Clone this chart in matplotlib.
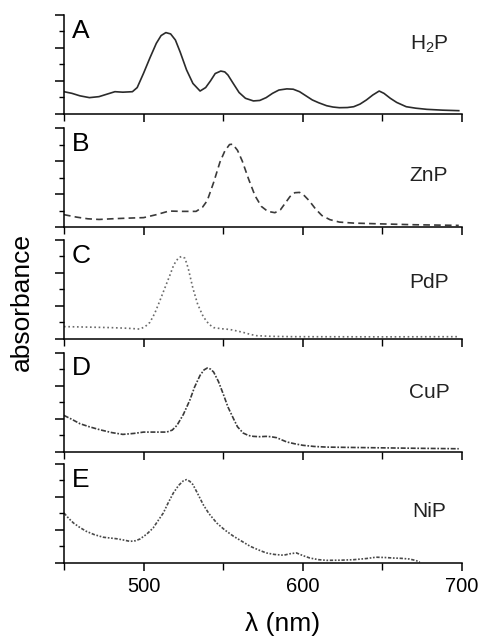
import numpy as np
import matplotlib
matplotlib.use('Agg')
import matplotlib.pyplot as plt

# Absorption spectra (wavelength in nm, absorbance in arbitrary units)
wl_h2p = [450, 455, 460, 466, 472, 477, 482, 487, 493, 496, 500, 504, 508, 511, 514, 517, 520, 523,
          527, 531, 535.5, 539, 542, 545, 548.5, 551, 553, 556, 560, 564, 569, 573, 577, 581, 585,
          590, 594, 598, 602, 606, 610, 615, 619, 623, 628, 632, 636, 640, 644, 648, 651, 655, 659,
          665, 671, 678, 688, 698]
ab_h2p = [1.35, 1.25, 1.1, 0.99, 1.05, 1.2, 1.35, 1.32, 1.35, 1.6, 2.47, 3.4, 4.28, 4.75, 4.93, 4.85,
          4.48, 3.75, 2.67, 1.85, 1.39, 1.6, 2.0, 2.45, 2.6, 2.55, 2.36, 1.9, 1.3, 0.95, 0.79, 0.82,
          0.99, 1.25, 1.45, 1.52, 1.5, 1.35, 1.1, 0.85, 0.68, 0.5, 0.42, 0.38, 0.39, 0.44, 0.6, 0.85,
          1.15, 1.39, 1.25, 0.95, 0.7, 0.44, 0.35, 0.28, 0.23, 0.2]

wl_znp = [450, 458, 465, 472, 480, 490, 500, 508, 516, 524, 533, 537, 540, 544, 548, 551, 554, 556,
          559, 562, 566, 570, 574, 578, 582.5, 586, 589, 592, 595, 598, 601, 604, 608, 612, 617, 623,
          632, 646, 670, 698]
ab_znp = [0.75, 0.6, 0.5, 0.46, 0.5, 0.54, 0.57, 0.75, 0.97, 0.95, 0.95, 1.2, 1.6, 2.7, 3.94, 4.6,
          5.0, 5.02, 4.65, 4.0, 2.9, 1.9, 1.25, 0.95, 0.87, 1.05, 1.45, 1.85, 2.08, 2.1, 1.9, 1.6, 1.1,
          0.7, 0.45, 0.3, 0.24, 0.2, 0.14, 0.1]

wl_pdp = [450, 465, 479, 490, 497.7, 501, 504, 507, 510, 513, 516.6, 519, 522, 524, 526, 528, 531,
          534, 537.5, 541, 544, 549, 554, 558, 562.6, 567, 571, 580, 594, 650, 698]
ab_pdp = [0.75, 0.72, 0.69, 0.65, 0.6, 0.75, 1.01, 1.55, 2.26, 3.0, 3.88, 4.5, 4.93, 5.0, 4.89, 4.3,
          3.07, 2.1, 1.35, 0.9, 0.69, 0.62, 0.58, 0.5, 0.4, 0.28, 0.2, 0.16, 0.14, 0.13, 0.14]

wl_cup = [450, 455, 460, 466, 472.6, 480, 487, 494, 500, 507, 514.5, 518, 521, 525, 529, 532, 535.5,
          538, 540, 542, 544, 547, 550, 553, 556.5, 559, 562.6, 566, 569, 573, 577, 580, 583.6, 587,
          590, 595, 600, 607, 615, 630, 646, 670, 698]
ab_cup = [2.19, 1.95, 1.69, 1.5, 1.32, 1.15, 1.04, 1.1, 1.18, 1.18, 1.18, 1.3, 1.59, 2.25, 3.1, 3.9,
          4.62, 4.95, 5.06, 5.0, 4.82, 4.25, 3.5, 2.7, 1.99, 1.5, 1.12, 0.97, 0.92, 0.9, 0.92, 0.9,
          0.84, 0.7, 0.58, 0.47, 0.38, 0.31, 0.27, 0.25, 0.23, 0.2, 0.17]

wl_nip = [450, 453, 456, 460, 464, 469, 474.7, 483, 487, 491.5, 495, 497.7, 502, 506, 509, 512.4,
          515.5, 518.7, 522, 525, 527, 529, 531, 534, 537.5, 541, 546, 551, 556.5, 562, 567, 572, 577,
          582, 588, 592, 596, 600, 604.5, 610, 615, 624, 632, 640, 646, 652, 657, 662, 667, 671, 673.6]
ab_nip = [3.03, 2.7, 2.42, 2.15, 1.92, 1.72, 1.56, 1.47, 1.4, 1.31, 1.35, 1.45, 1.75, 2.12, 2.55, 3.03,
          3.65, 4.24, 4.7, 4.98, 5.05, 4.95, 4.75, 4.2, 3.53, 3.0, 2.42, 2.0, 1.62, 1.3, 1.01, 0.8, 0.61,
          0.52, 0.47, 0.56, 0.61, 0.45, 0.3, 0.2, 0.16, 0.17, 0.2, 0.27, 0.35, 0.33, 0.3, 0.28, 0.24,
          0.15, 0.06]

letters = ['A', 'B', 'C', 'D', 'E']
names = ['H$_2$P', 'ZnP', 'PdP', 'CuP', 'NiP']
spectra = [(wl_h2p, ab_h2p), (wl_znp, ab_znp), (wl_pdp, ab_pdp), (wl_cup, ab_cup), (wl_nip, ab_nip)]

# line look for each panel
styles = ['-', (0, (4, 2.5)), (0, (1, 1.6)), (0, (3, 1, 1, 1)), (0, (2, 1, 1, 1, 1, 1))]
colors = ['#2b2b2b', '#3a3a3a', '#6a6a6a', '#3a3a3a', '#4a4a4a']
name_y = [0.70, 0.525, 0.566, 0.60, 0.515]

plt.rcParams['font.family'] = ['Liberation Sans', 'DejaVu Sans']
plt.rcParams['mathtext.default'] = 'regular'

fig = plt.figure(figsize=(4.81, 6.36), dpi=100)

# panel placement (figure fractions)
left, width, height = 0.133, 0.8274, 0.1557
bottoms = [0.8208, 0.643, 0.467, 0.290, 0.1148]

for i in range(5):
    ax = fig.add_axes([left, bottoms[i], width, height])
    wl, ab = spectra[i]
    ax.plot(wl, ab, linestyle=styles[i], color=colors[i], linewidth=1.2)
    ax.set_xlim(450, 700)
    ax.set_ylim(0, 6)
    ax.spines['top'].set_visible(False)
    ax.spines['right'].set_visible(False)
    ax.spines['left'].set_linewidth(1.1)
    ax.spines['bottom'].set_linewidth(1.1)

    ax.set_yticks([0, 2, 4, 6])
    ax.set_yticks([1, 3, 5], minor=True)
    ax.set_yticklabels([])
    ax.set_xticks([500, 600, 700])
    ax.set_xticks([450, 550, 650], minor=True)
    ax.tick_params(axis='y', which='major', direction='out', length=6.5, width=1.1)
    ax.tick_params(axis='y', which='minor', direction='out', length=3.5, width=1.0)
    ax.tick_params(axis='x', which='major', direction='out', length=6, width=1.1, labelsize=14.5, pad=4)
    ax.tick_params(axis='x', which='minor', direction='out', length=5, width=1.0)
    if i < 4:
        ax.set_xticklabels([])

    ax.text(0.02, 0.84, letters[i], transform=ax.transAxes, fontsize=19, ha='left', va='center')
    ax.text(0.917, name_y[i], names[i], transform=ax.transAxes, fontsize=15, ha='center', va='center',
            color='#222222')

fig.text(0.587, 0.019, 'λ (nm)', fontsize=19, ha='center', va='center')
fig.text(0.046, 0.525, 'absorbance', fontsize=19, ha='center', va='center', rotation=90)

plt.savefig('out.png', dpi=100)
